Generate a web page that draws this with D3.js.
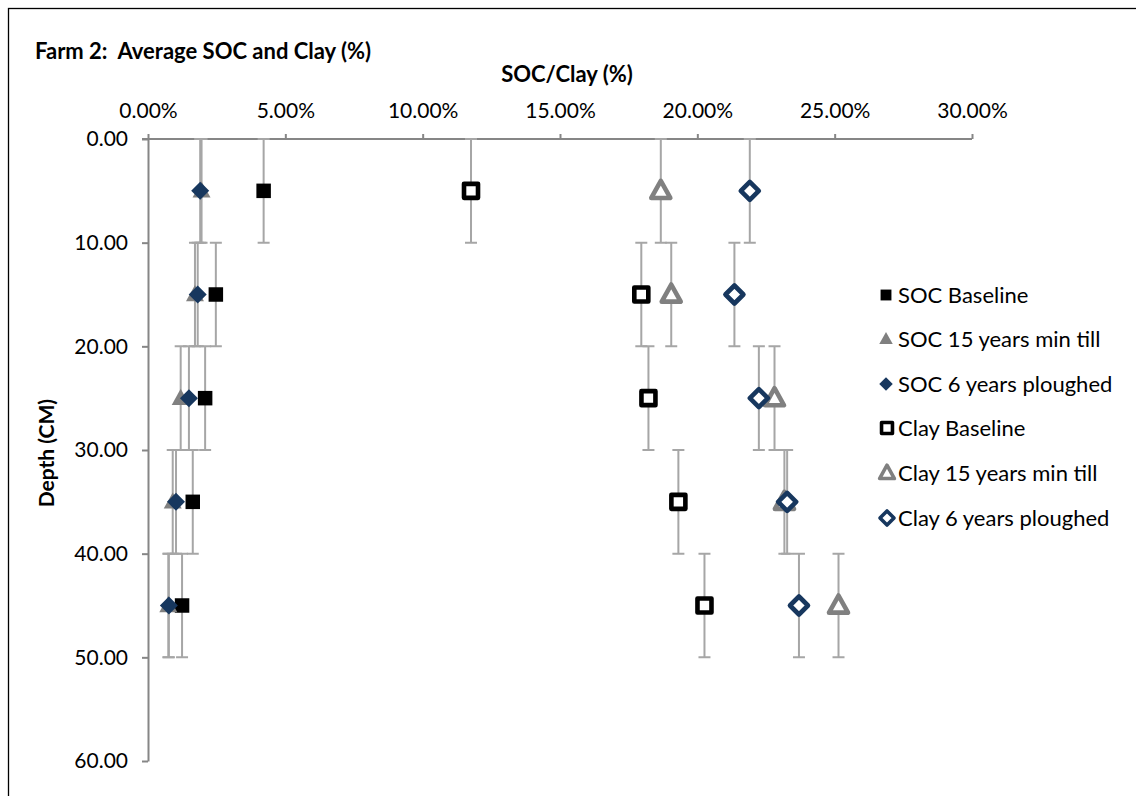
<!DOCTYPE html>
<html>
<head>
<meta charset="utf-8">
<script src="https://cdn.jsdelivr.net/npm/d3@7"></script>
<style>
  body { margin: 0; background: #fff; }
  text { font-family: Lato, "Open Sans", sans-serif; }
</style>
</head>
<body>
<div id="chart"></div>
<script>
// depths (cm) at which samples were taken, error bars are +/- 5 cm
const depths = [5, 15, 25, 35, 45]
const depthErr = 5

const socBaseline = [0.0421, 0.0247, 0.0208, 0.0163, 0.0124]
const soc15Min    = [0.0195, 0.0171, 0.0119, 0.0090, 0.0074]
const soc6Plough  = [0.0190, 0.0181, 0.0149, 0.0102, 0.0076]
const clayBaseline = [0.1176, 0.1796, 0.1822, 0.1931, 0.2026]
const clay15Min    = [0.1867, 0.1905, 0.2281, 0.2317, 0.2514]
const clay6Plough  = [0.2191, 0.2135, 0.2224, 0.2327, 0.2370]

const xTicks = [0, 0.05, 0.10, 0.15, 0.20, 0.25, 0.30]
const yTicks = [0, 10, 20, 30, 40, 50, 60]

const seriesNames = ["SOC Baseline", "SOC 15 years min till", "SOC 6 years ploughed",
                     "Clay Baseline", "Clay 15 years min till", "Clay 6 years ploughed"]

const W = 1136, H = 796
const svg = d3.select("#chart").append("svg")
    .attr("width", W).attr("height", H)

// chart frame
svg.append("rect")
    .attr("x", 8.5).attr("y", 8.5)
    .attr("width", W + 20).attr("height", H + 20)
    .attr("fill", "none").attr("stroke", "#000").attr("stroke-width", 1.3)

const x = d3.scaleLinear().domain([0, 0.30]).range([148, 972])
const y = d3.scaleLinear().domain([0, 60]).range([139, 761])

const axisColor = "#868686"

const xAxis = svg.append("g")
    .attr("transform", `translate(0,${y(0)})`)
    .call(d3.axisTop(x).tickValues(xTicks).tickFormat(d3.format(".2%")).tickSize(5).tickPadding(16).tickSizeOuter(0))
const yAxis = svg.append("g")
    .attr("transform", `translate(${x(0)},0)`)
    .call(d3.axisLeft(y).tickValues(yTicks).tickFormat(d3.format(".2f")).tickSize(6).tickPadding(14).tickSizeOuter(0))

;[xAxis, yAxis].forEach(g => {
  g.select(".domain").attr("stroke", axisColor).attr("stroke-width", 2)
  g.selectAll(".tick line").attr("stroke", axisColor).attr("stroke-width", 2)
  g.selectAll(".tick text").attr("fill", "#000").style("font-size", "21px")
})
xAxis.select(".domain").attr("d", `M${x(0) - 6},0H${x(0.30)}`)

// titles
svg.append("text").attr("x", 35).attr("y", 59)
    .style("font-size", "22px").style("font-weight", "bold")
    .style("white-space", "pre")
    .text("Farm 2:  Average SOC and Clay (%)")
svg.append("text").attr("x", 567).attr("y", 82).attr("text-anchor", "middle")
    .style("font-size", "22px").style("font-weight", "bold")
    .text("SOC/Clay (%)")
svg.append("text")
    .attr("transform", `translate(54,${y(30.3)}) rotate(-90)`)
    .attr("text-anchor", "middle")
    .style("font-size", "21px").style("font-weight", "bold")
    .text("Depth (CM)")

const navy = "#17375E", grey = "#808080"

const series = [
  {name: seriesNames[0], values: socBaseline,  shape: "square",   hollow: false, color: "#000"},
  {name: seriesNames[1], values: soc15Min,     shape: "triangle", hollow: false, color: grey},
  {name: seriesNames[2], values: soc6Plough,   shape: "diamond",  hollow: false, color: navy},
  {name: seriesNames[3], values: clayBaseline, shape: "square",   hollow: true,  color: "#000"},
  {name: seriesNames[4], values: clay15Min,    shape: "triangle", hollow: true,  color: grey},
  {name: seriesNames[5], values: clay6Plough,  shape: "diamond",  hollow: true,  color: navy}
]

function markerPath(shape, s) {
  const h = s / 2
  if (shape === "square") return `M${-h},${-h}H${h}V${h}H${-h}Z`
  if (shape === "diamond") return `M0,${-h}L${h},0L0,${h}L${-h},0Z`
  // triangle
  return `M0,${-h * 1.05}L${h},${h * 0.75}L${-h},${h * 0.75}Z`
}

// error bars
const errG = svg.append("g")
series.forEach(s => {
  s.values.forEach((v, i) => {
    const cx = x(v)
    const y0 = y(depths[i] - depthErr), y1 = y(depths[i] + depthErr)
    errG.append("path")
        .attr("d", `M${cx},${y0}V${y1}M${cx - 6},${y0}H${cx + 6}M${cx - 6},${y1}H${cx + 6}`)
        .attr("stroke", "#A6A6A6").attr("stroke-width", 2).attr("fill", "none")
  })
})

function drawMarker(g, s, sizeScale) {
  let size
  if (s.hollow) size = s.shape === "square" ? 14 : (s.shape === "diamond" ? 18 : 19)
  else size = s.shape === "square" ? 14.5 : 18
  size *= sizeScale
  const p = g.append("path").attr("d", markerPath(s.shape, size))
  if (s.hollow) {
    p.attr("fill", "#fff").attr("stroke", s.color).attr("stroke-width", 4.6 * sizeScale)
     .attr("stroke-linejoin", "round")
  } else {
    p.attr("fill", s.color)
  }
  return p
}

// markers
series.forEach(s => {
  const g = svg.append("g")
  s.values.forEach((v, i) => {
    const mg = g.append("g").attr("transform", `translate(${x(v)},${y(depths[i])})`)
    drawMarker(mg, s, 1)
  })
})

// legend
const legendY = [295, 339, 384, 428, 473, 518]
series.forEach((s, i) => {
  const lg = svg.append("g").attr("transform", `translate(0,${legendY[i]})`)
  const mg = lg.append("g").attr("transform", `translate(${s.hollow ? 887 : 886},0)`)
  drawMarker(mg, s, s.hollow ? 0.78 : 0.75)
  lg.append("text").attr("x", 898).attr("y", 8)
      .style("font-size", "22px")
      .text(s.name)
})
</script>
</body>
</html>
